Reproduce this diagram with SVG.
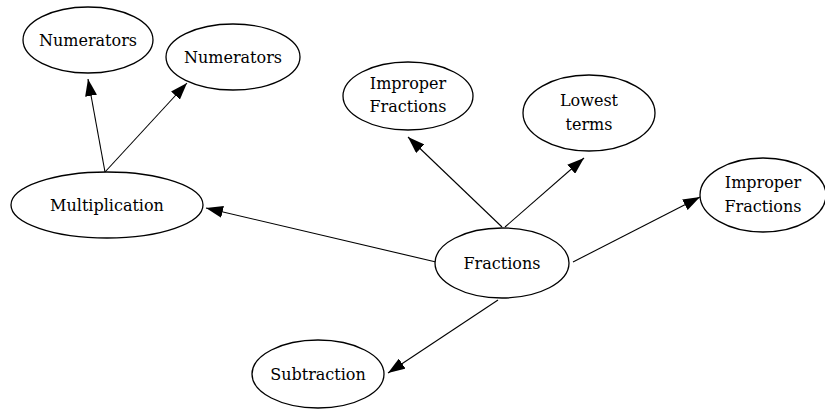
<svg xmlns="http://www.w3.org/2000/svg" width="825" height="410" viewBox="0 0 825 410">
<style>
.n{fill:#fff;stroke:#000;stroke-width:1.3}
.t{font-family:"DejaVu Serif","Liberation Serif",serif;font-size:16px;fill:#000;text-anchor:middle}
.e{stroke:#000;stroke-width:1.1;fill:none;marker-end:url(#a)}
</style>
<defs>
<marker id="a" viewBox="0 0 17 12" refX="17" refY="6" markerWidth="17" markerHeight="12" markerUnits="userSpaceOnUse" orient="auto">
<path d="M0,0 L17,6 L0,12 Z" fill="#000"/>
</marker>
</defs>
<rect width="825" height="410" fill="#fff"/>
<g id="edges">
<line class="e" x1="105" y1="172" x2="88" y2="79"/>
<line class="e" x1="105" y1="172" x2="187" y2="83"/>
<line class="e" x1="436" y1="262" x2="206" y2="208"/>
<line class="e" x1="502" y1="227" x2="408" y2="137"/>
<line class="e" x1="505" y1="227" x2="584" y2="158"/>
<line class="e" x1="573" y1="262" x2="700" y2="197"/>
<line class="e" x1="498" y1="300" x2="388" y2="373"/>
</g>
<g id="numerators1"><ellipse class="n" cx="88" cy="40" rx="65" ry="33"/><text class="t" x="88" y="46">Numerators</text></g>
<g id="numerators2"><ellipse class="n" cx="233" cy="57" rx="67" ry="33"/><text class="t" x="233" y="63">Numerators</text></g>
<g id="multiplication"><ellipse class="n" cx="107" cy="205" rx="96" ry="33"/><text class="t" x="107" y="211">Multiplication</text></g>
<g id="improper1"><ellipse class="n" cx="408" cy="96" rx="65" ry="34"/><text class="t" x="408" y="89">Improper</text><text class="t" x="408" y="112">Fractions</text></g>
<g id="lowest"><ellipse class="n" cx="589" cy="113" rx="66" ry="38"/><text class="t" x="589" y="106">Lowest</text><text class="t" x="589" y="130">terms</text></g>
<g id="improper2"><ellipse class="n" cx="763" cy="195" rx="63" ry="37"/><text class="t" x="763" y="188">Improper</text><text class="t" x="763" y="212">Fractions</text></g>
<g id="fractions"><ellipse class="n" cx="502" cy="263" rx="67" ry="35"/><text class="t" x="502" y="269">Fractions</text></g>
<g id="subtraction"><ellipse class="n" cx="318" cy="374" rx="66" ry="34"/><text class="t" x="318" y="380">Subtraction</text></g>
</svg>
